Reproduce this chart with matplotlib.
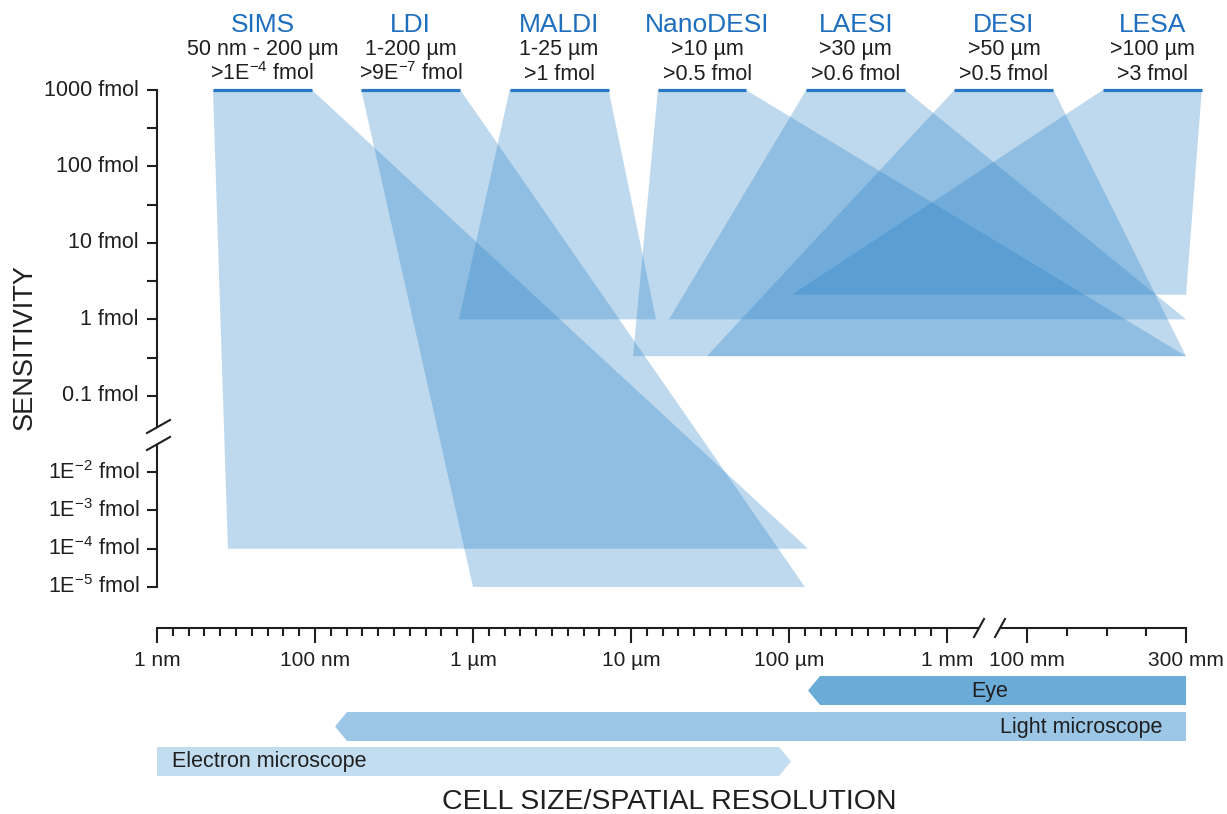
import numpy as np
import matplotlib
matplotlib.use("Agg")
import matplotlib.pyplot as plt
from matplotlib.patches import Polygon
from matplotlib.transforms import Affine2D, blended_transform_factory

# ---------------- data ----------------
techniques = ["SIMS", "LDI", "MALDI", "NanoDESI", "LAESI", "DESI", "LESA"]
resolution_text = ["50 nm - 200 µm", "1-200 µm", "1-25 µm", ">10 µm",
                   ">30 µm", ">50 µm", ">100 µm"]
sensitivity_text = [r">1E$^{-4}$ fmol", r">9E$^{-7}$ fmol", ">1 fmol",
                    ">0.5 fmol", ">0.6 fmol", ">0.5 fmol", ">3 fmol"]
# drawn lower edge of each technique's wedge (sensitivity floor, fmol)
floor_fmol = [1e-4, 1e-5, 1.0, 0.33, 1.0, 0.33, 2.1]
# resolution span of that lower edge (nm)
floor_res_min_nm = [7.9, 1.0e3, 8.15e2, 1.03e4, 1.74e4, 3.02e4, 1.04e5]
floor_res_max_nm = [1.32e5, 1.26e5, 1.44e4, 3.0e8, 3.0e8, 3.0e8, 3.0e8]
top_fmol = 1000.0

instruments = ["Eye", "Light microscope", "Electron microscope"]
inst_min_nm = [1.32e5, 1.34e2, 1.0]
inst_max_nm = [3.0e8, 3.0e8, 1.03e5]

x_tick_nm = [1, 100, 1e3, 1e4, 1e5, 1e6, 1e8, 3e8]
x_tick_labels = ["1 nm", "100 nm", "1 µm", "10 µm", "100 µm", "1 mm",
                 "100 mm", "300 mm"]
y_tick_fmol = [1000, 100, 10, 1, 0.1, 1e-2, 1e-3, 1e-4, 1e-5]
y_tick_labels = ["1000 fmol", "100 fmol", "10 fmol", "1 fmol", "0.1 fmol",
                 r"1E$^{-2}$ fmol", r"1E$^{-3}$ fmol", r"1E$^{-4}$ fmol",
                 r"1E$^{-5}$ fmol"]

# ---------------- broken log scales ----------------
X_LOG = [-2, 0, 2, 3, 4, 5, 6, 8, np.log10(3e8), 9.2]
X_U = [-1, 0, 1, 2, 3, 4, 5, 5.506, 6.513, 6.513 + (9.2 - np.log10(3e8)) * 2.111]
Y_LOG = [-12, -5, -4, -3, -2, -1, 0, 1, 2, 3, 6]
Y_V = [-7, -3.5, -3, -2.5, -2, -1, 0, 1, 2, 3, 6]


def fwd_x(v):
    v = np.asarray(v, dtype=float)
    return np.interp(np.log10(np.clip(v, 1e-30, None)), X_LOG, X_U)


def inv_x(u):
    return 10.0 ** np.interp(np.asarray(u, dtype=float), X_U, X_LOG)


def fwd_y(v):
    v = np.asarray(v, dtype=float)
    return np.interp(np.log10(np.clip(v, 1e-30, None)), Y_LOG, Y_V)


def inv_y(w):
    return 10.0 ** np.interp(np.asarray(w, dtype=float), Y_V, Y_LOG)


W, H = 1227, 814
PX_U, X0 = 158.0, 157.0       # pixels per scale unit, pixel of 1 nm
PX_V, Y0 = 76.45, 90.0        # pixels per scale unit, pixel of 1000 fmol


def U(px):
    return (px - X0) / PX_U


def V(py):
    return 3 - (py - Y0) / PX_V


plt.rcParams['font.family'] = ['Liberation Sans', 'DejaVu Sans']
plt.rcParams['mathtext.fontset'] = 'custom'
plt.rcParams['mathtext.rm'] = 'Liberation Sans'
plt.rcParams['mathtext.it'] = 'Liberation Sans'
plt.rcParams['mathtext.bf'] = 'Liberation Sans:bold'

fig = plt.figure(figsize=(W / 100, H / 100), dpi=100)
ax = fig.add_axes([0, 0, 1, 1])
ax.set_xscale('function', functions=(fwd_x, inv_x))
ax.set_yscale('function', functions=(fwd_y, inv_y))
ax.set_xlim(inv_x(U(0)), inv_x(U(W)))
ax.set_ylim(inv_y(V(H)), inv_y(V(0)))
ax.axis('off')

px_tr = Affine2D().scale(1 / W, -1 / H).translate(0, 1) + fig.transFigure
xd_ypx = blended_transform_factory(ax.transData, px_tr)
xpx_yd = blended_transform_factory(px_tr, ax.transData)

TXT = '#1f1f1f'
NAME_C = '#1f6fbf'
BAR_C = '#2a78c4'
FILL_C = '#2882c8'

# ---------------- technique wedges ----------------
col_left_px = [213 + 148.3 * i for i in range(len(techniques))]
col_width_px = [99, 99, 99, 88, 99, 99, 99]
for i, name in enumerate(techniques):
    lpx = col_left_px[i]
    rpx = lpx + col_width_px[i]
    tl, tr_ = inv_x(U(lpx)), inv_x(U(rpx))
    verts = [(tl, top_fmol), (tr_, top_fmol),
             (floor_res_max_nm[i], floor_fmol[i]),
             (floor_res_min_nm[i], floor_fmol[i])]
    ax.add_patch(Polygon(verts, closed=True, facecolor=FILL_C, alpha=0.3,
                         edgecolor='none', zorder=2))
    ax.plot([tl, tr_], [top_fmol, top_fmol], color=BAR_C, lw=2.3,
            solid_capstyle='butt', zorder=4)
    cx = lpx + 49.5
    ax.text(cx, 25, name, transform=px_tr, ha='center', va='center',
            fontsize=19, color=NAME_C)
    ax.text(cx, 50, resolution_text[i], transform=px_tr, ha='center',
            va='center', fontsize=15.5, color=TXT)
    ax.text(cx, 74, sensitivity_text[i], transform=px_tr, ha='center',
            va='center', fontsize=15.5, color=TXT)

# ---------------- y axis (broken) ----------------
LW = 1.5
ax.plot([X0, X0], [top_fmol, inv_y(V(427))], transform=xpx_yd, color=TXT,
        lw=LW, solid_capstyle='butt')
ax.plot([X0, X0], [inv_y(V(444)), y_tick_fmol[-1]], transform=xpx_yd,
        color=TXT, lw=LW, solid_capstyle='butt')
ax.hlines(y_tick_fmol, X0 - 10, X0 + 0.7, transform=xpx_yd, color=TXT, lw=LW)
y_minor = inv_y(np.array([2.5, 1.5, 0.5, -0.5]))
ax.hlines(y_minor, X0 - 10, X0, transform=xpx_yd, color=TXT, lw=LW)
for (x1, y1, x2, y2) in [(147, 433, 170, 420), (147, 450, 170, 437)]:
    ax.plot([x1, x2], [y1, y2], transform=px_tr, color=TXT, lw=LW)
for val, lab in zip(y_tick_fmol, y_tick_labels):
    ax.text(139, val, lab, transform=xpx_yd, ha='right', va='center',
            fontsize=15.5, color=TXT)
ax.text(25, 347, "SENSITIVITY", transform=px_tr, rotation=90, ha='center',
        va='center', fontsize=19.5, color=TXT)

# ---------------- x axis (broken) ----------------
XA = 628
ax.plot([x_tick_nm[0], inv_x(U(979))], [XA, XA], transform=xd_ypx,
        color=TXT, lw=LW, solid_capstyle='butt')
ax.plot([inv_x(U(1000)), x_tick_nm[-1]], [XA, XA], transform=xd_ypx,
        color=TXT, lw=LW, solid_capstyle='butt')
ax.vlines(x_tick_nm, XA - 0.7, XA + 15, transform=xd_ypx, color=TXT, lw=LW)
minor_u = [k / 10 for k in range(1, 50) if k % 10 != 0]
minor_u += [5.506 + 0.2518 * k for k in (1, 2, 3)]
ax.vlines(inv_x(minor_u), XA, XA + 8, transform=xd_ypx, color=TXT, lw=LW)
for (x1, y1, x2, y2) in [(974, 637, 984, 619), (995, 637, 1005, 619)]:
    ax.plot([x1, x2], [y1, y2], transform=px_tr, color=TXT, lw=LW)
for val, lab in zip(x_tick_nm, x_tick_labels):
    ax.text(val, 661, lab, transform=xd_ypx, ha='center', va='center',
            fontsize=15, color=TXT)

# ---------------- instrument range bars ----------------
rows_px = [(676, 705), (712, 741), (747, 776)]
bar_colors = ['#6babd8', '#9bc6e6', '#c2ddf0']
tip_u = 12 / PX_U
for i, name in enumerate(instruments):
    top, bot = rows_px[i]
    mid = (top + bot) / 2
    lo, hi = inst_min_nm[i], inst_max_nm[i]
    if i < 2:   # pointed on the left
        lo_in = inv_x(fwd_x(lo) + tip_u)
        verts = [(lo, mid), (lo_in, top), (hi, top), (hi, bot), (lo_in, bot)]
    else:       # pointed on the right
        hi_in = inv_x(fwd_x(hi) - tip_u)
        verts = [(lo, top), (hi_in, top), (hi, mid), (hi_in, bot), (lo, bot)]
    ax.add_patch(Polygon(verts, closed=True, facecolor=bar_colors[i],
                         edgecolor='none', transform=xd_ypx, zorder=2))
ax.text(990, 691, instruments[0], transform=px_tr, ha='center', va='center',
        fontsize=15.5, color=TXT)
ax.text(1162, 727, instruments[1], transform=px_tr, ha='right', va='center',
        fontsize=15.5, color=TXT)
ax.text(172, 762, instruments[2], transform=px_tr, ha='left', va='center',
        fontsize=15.5, color=TXT)

ax.text(669, 802, "CELL SIZE/SPATIAL RESOLUTION", transform=px_tr,
        ha='center', va='center', fontsize=20.5, color=TXT)

fig.savefig("out.png", dpi=100, facecolor='white')
